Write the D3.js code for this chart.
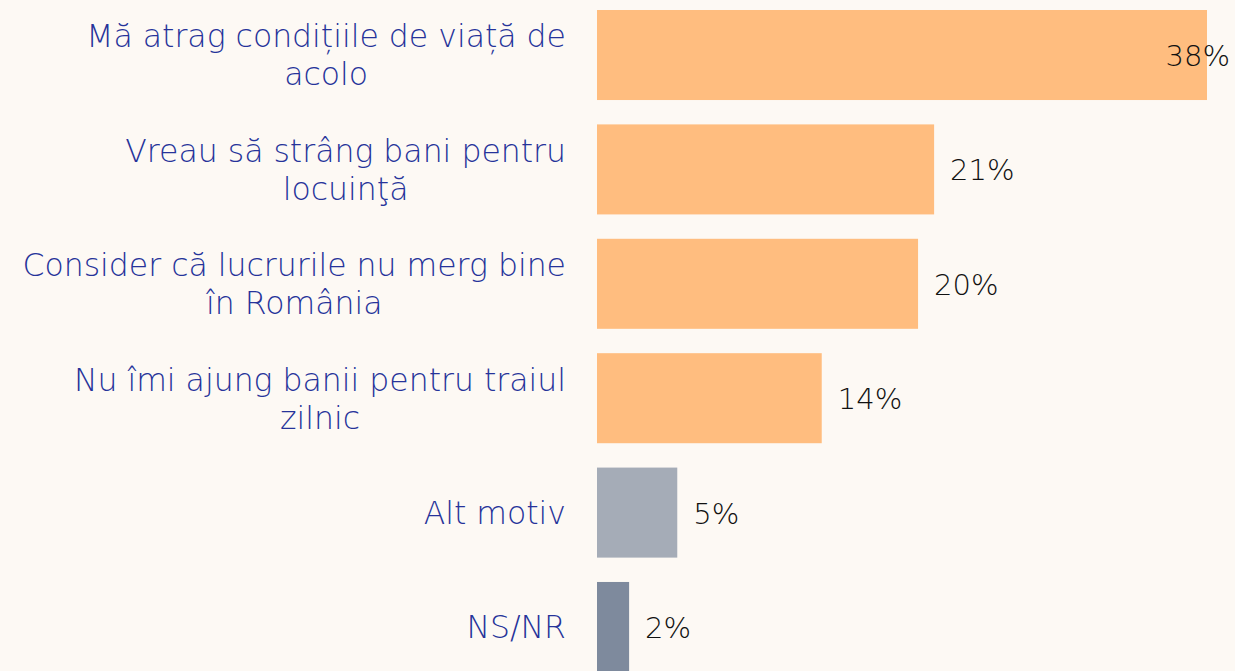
<!DOCTYPE html>
<html><head><meta charset="utf-8">
<script src="https://cdn.jsdelivr.net/npm/d3@7"></script>
<style>
html,body{margin:0;padding:0;background:#fdf9f4;}
svg{display:block;}
</style></head>
<body><svg id="chart" width="1235" height="671"></svg>
<script>
const categories = [
  "Mă atrag condițiile de viață de\nacolo",
  "Vreau să strâng bani pentru\nlocuinţă",
  "Consider că lucrurile nu merg bine\nîn România",
  "Nu îmi ajung banii pentru traiul\nzilnic",
  "Alt motiv",
  "NS/NR"
];
const values = [38, 21, 20, 14, 5, 2];
const colors = ["#ffbd7f", "#ffbd7f", "#ffbd7f", "#ffbd7f", "#a5acb7", "#7e8a9d"];

const W = 1235, H = 671;
const svg = d3.select("#chart");
svg.append("rect").attr("width", W).attr("height", H).attr("fill", "#fdf9f4");

const x = d3.scaleLinear().domain([0, 38]).range([597, 1207]);
const y = d3.scaleBand().domain(d3.range(categories.length)).range([10, 672]).paddingInner(0.213).paddingOuter(0);

const FONT = "'DejaVu Sans', sans-serif";
const FW = 200;
const FS = 31.5;
const VFS = 29;

svg.selectAll("rect.bar").data(values).join("rect")
  .attr("class", "bar")
  .attr("x", x(0))
  .attr("y", (d, i) => y(i))
  .attr("width", d => x(d) - x(0))
  .attr("height", y.bandwidth())
  .attr("fill", (d, i) => colors[i]);

// category labels: centered block, right edge at 566
const lineH = 38;
const RIGHT = 566;
svg.selectAll("g.cat").data(categories).join("g")
  .attr("class", "cat")
  .each(function(d, i) {
    const g = d3.select(this);
    const lines = d.split("\n");
    const cy = y(i) + y.bandwidth() / 2;
    const texts = lines.map((ln, k) => g.append("text")
      .attr("font-family", FONT)
      .attr("font-weight", FW)
      .attr("font-size", FS)
      .attr("fill", "#26339a")
      .attr("text-anchor", "middle")
      .attr("y", cy + (k - (lines.length - 1) / 2) * lineH)
      .attr("dy", "0.36em")
      .text(ln));
    const maxW = d3.max(texts, t => t.node().getComputedTextLength());
    texts.forEach(t => t.attr("x", RIGHT - maxW / 2));
  });

// value labels
svg.selectAll("text.val").data(values).join("text")
  .attr("class", "val")
  .attr("font-family", FONT)
  .attr("font-weight", FW)
  .attr("font-size", VFS)
  .attr("fill", "#111111")
  .attr("y", (d, i) => y(i) + y.bandwidth() / 2)
  .attr("dy", "0.38em")
  .text(d => d + "%")
  .each(function(d) {
    const w = this.getComputedTextLength();
    const xs = Math.min(x(d) + 16, W - 5 - w);
    d3.select(this).attr("x", xs);
  });
</script></body></html>
